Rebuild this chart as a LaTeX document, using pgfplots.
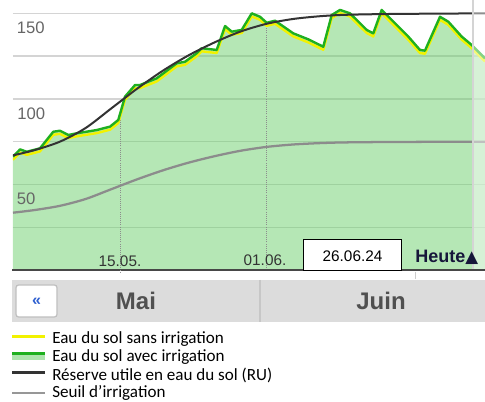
\documentclass[border=0pt]{standalone}
\usepackage{pgfplots}
\pgfplotsset{compat=1.18}
\usepackage{fontspec}
\setmainfont{Liberation Sans}
\newfontfamily\calfont{Carlito}
\newfontfamily\djv{DejaVu Sans}
\definecolor{gridgray}{HTML}{D4D4D4}
\definecolor{fillgreen}{HTML}{6CCF6C}
\definecolor{lgreen}{HTML}{1FB01F}
\definecolor{lyellow}{HTML}{F2F200}
\definecolor{ru}{HTML}{333333}
\definecolor{seuil}{HTML}{8C8C8C}
\definecolor{navgray}{HTML}{DCDCDC}
\definecolor{labgray}{HTML}{666666}
\definecolor{navtext}{HTML}{505050}
\definecolor{heute}{HTML}{16163A}
\definecolor{btnblue}{HTML}{2E5FD0}

\pgfplotstableread{
d v
1.54 66.2
2.36 70.5
3.14 69.1
4.68 71.1
6.23 80.8
7.01 81.4
7.98 78.9
8.96 79.9
11.29 81.8
12.84 83.8
13.8 87.7
14.58 101.3
15.75 108.1
16.33 108.1
18.27 112.0
20.6 120.8
21.57 121.7
22.93 126.7
23.51 129.6
25.26 128.6
26.23 142.6
27.01 139.3
28.17 140.3
29.34 150.0
30.3 148.0
31.08 144.5
32.05 145.7
34.18 138.3
35.93 134.8
37.67 130.5
38.65 149.0
39.62 152.0
40.78 150.0
42.73 140.3
43.49 138.3
44.47 152.0
46.22 143.2
47.57 136.4
48.93 128.6
49.51 128.2
51.26 148.0
52.23 145.1
53.79 136.4
54.95 131.5
56.5 123.7
}\avec

\pgfplotstableread{
d v
1.54 64.4
2.36 68.7
3.14 67.3
4.68 69.3
6.23 79.0
7.01 79.6
7.98 77.1
8.96 78.1
11.29 80.0
12.84 82.0
13.8 85.9
14.58 99.5
15.75 106.3
16.33 106.3
18.27 110.2
20.6 119.0
21.57 119.9
22.93 124.9
23.51 127.8
25.26 126.8
26.23 140.8
27.01 137.5
28.17 138.5
29.34 148.2
30.3 146.2
31.08 142.7
32.05 143.9
34.18 136.5
35.93 133.0
37.67 128.7
38.65 147.2
39.62 150.2
40.78 148.2
42.73 138.5
43.49 136.5
44.47 150.2
46.22 141.4
47.57 134.6
48.93 126.8
49.51 126.4
51.26 146.2
52.23 143.3
53.79 134.6
54.95 129.7
56.5 121.9
}\sans

\pgfplotstableread{
d v
1.54 67.0
4 70
7 75
10 83
13 94.5
16 106
19 116.5
22 125.5
25 133
28 139.3
31 143.8
34 146.6
37 148.2
40 149.1
45 149.6
50 149.8
56.5 150
}\ru

\pgfplotstableread{
d v
1.54 33.5
4 35
7 37.5
10 41.5
13 47.25
16 53
19 58.25
22 62.75
25 66.5
28 69.65
31 71.9
34 73.3
37 74.1
40 74.55
45 74.8
50 74.9
56.5 75
}\seuil

\begin{document}
\begin{tikzpicture}
\path[use as bounding box] (0,0) rectangle (363.75pt,-301.5pt);
\begin{axis}[
  at={(9.75pt,-202.5pt)}, anchor=south west,
  scale only axis, width=354pt, height=202.5pt,
  xmin=1.54, xmax=56.5, ymin=0, ymax=157.8,
  axis line style={draw=none},
  tick style={draw=none},
  xtick=\empty,
  ytick={25,50,75,100,125,150},
  yticklabels={},
  ymajorgrids,
  grid style={color=gridgray, line width=1pt},
  clip=true,
]
\addplot[draw=none, fill=fillgreen, fill opacity=0.5] table[x=d,y=v] {\avec} \closedcycle;
\addplot[color=black!45, densely dotted, line width=0.6pt] coordinates {(14,0) (14,93)};
\addplot[color=black!45, densely dotted, line width=0.6pt] coordinates {(31,0) (31,145)};
\addplot[color=seuil, line width=1.7pt, smooth] table[x=d,y=v] {\seuil};
\addplot[color=lyellow, line width=1.8pt, line join=round] table[x=d,y=v] {\sans};
\addplot[color=lgreen, line width=1.8pt, line join=round] table[x=d,y=v] {\avec};
\addplot[color=ru, line width=1.5pt, smooth] table[x=d,y=v] {\ru};
\addplot[draw=none, fill=white, fill opacity=0.45] coordinates {(55.1,0) (55.1,157.8) (56.6,157.8) (56.6,0)} -- cycle;
\addplot[color=gridgray, line width=0.8pt] coordinates {(55.1,0) (55.1,157.8)};
\end{axis}
\begin{scope}[x=0.75pt,y=-0.75pt]
% y labels
\node[anchor=north west, inner sep=0, text=labgray, font=\fontsize{12.5}{14}\selectfont] at (16.5,22) {150};
\node[anchor=north west, inner sep=0, text=labgray, font=\fontsize{12.5}{14}\selectfont] at (17,107.5) {100};
\node[anchor=north west, inner sep=0, text=labgray, font=\fontsize{12.5}{14}\selectfont] at (16.5,193) {50};
% bottom axis line
\draw[color=black!72, line width=1.3pt] (12,270) -- (485,270);
\draw[color=black!40, densely dotted, line width=0.6pt] (120,270) -- (120,274);
\draw[color=black!20, line width=0.6pt] (415,272) -- (415,279);
% date labels
\node[anchor=base, inner sep=0, text=black!80, font=\fontsize{11.5}{13}\selectfont] at (120,267) {15.05.};
\node[anchor=base, inner sep=0, text=black!80, font=\fontsize{11.5}{13}\selectfont] at (265,266) {01.06.};
% date box
\draw[fill=white, line width=0.7pt] (303.3,239.3) rectangle (401.7,270);
\node[anchor=base, inner sep=0, font=\fontsize{11.5}{13}\selectfont] at (352.5,262) {26.06.24};
\node[anchor=base west, inner sep=0, text=heute, font=\fontsize{13.5}{15}\selectfont\bfseries] at (415,263) {Heute{\djv\fontsize{12.5}{13}\selectfont ▲}};
% nav bar
\fill[navgray] (12,280) rectangle (485,322);
\draw[color=black!22, line width=0.8pt] (260,280) -- (260,322);
\draw[fill=white, draw=black!25, line width=0.9pt, rounded corners=2pt] (16,285) rectangle (57,317);
\node[text=btnblue, font=\fontsize{12}{14}\selectfont\bfseries] at (36.5,301.5) {«};
\node[anchor=base, inner sep=0, text=navtext, font=\fontsize{18}{20}\selectfont\bfseries] at (136,310) {Mai};
\node[anchor=base, inner sep=0, text=navtext, font=\fontsize{18}{20}\selectfont\bfseries] at (381,310) {Juin};
% legend
\draw[color=lyellow, line width=2pt] (12,336.7) -- (45,336.7);
\fill[fillgreen!55] (12,354) rectangle (45,360);
\draw[color=lgreen, line width=1.6pt] (12,353.5) -- (45,353.5);
\draw[color=ru, line width=2pt] (12,372.7) -- (45,372.7);
\draw[color=seuil!90, line width=2pt] (12,393) -- (45,393);
\node[anchor=base west, inner sep=0, font=\calfont\fontsize{12.8}{15}\selectfont] at (52,343.5) {Eau du sol sans irrigation};
\node[anchor=base west, inner sep=0, font=\calfont\fontsize{12.8}{15}\selectfont] at (52,361.5) {Eau du sol avec irrigation};
\node[anchor=base west, inner sep=0, font=\calfont\fontsize{12.8}{15}\selectfont] at (52,380.5) {Réserve utile en eau du sol (RU)};
\node[anchor=base west, inner sep=0, font=\calfont\fontsize{12.8}{15}\selectfont] at (52,397.5) {Seuil d’irrigation};
\end{scope}
\end{tikzpicture}
\end{document}
